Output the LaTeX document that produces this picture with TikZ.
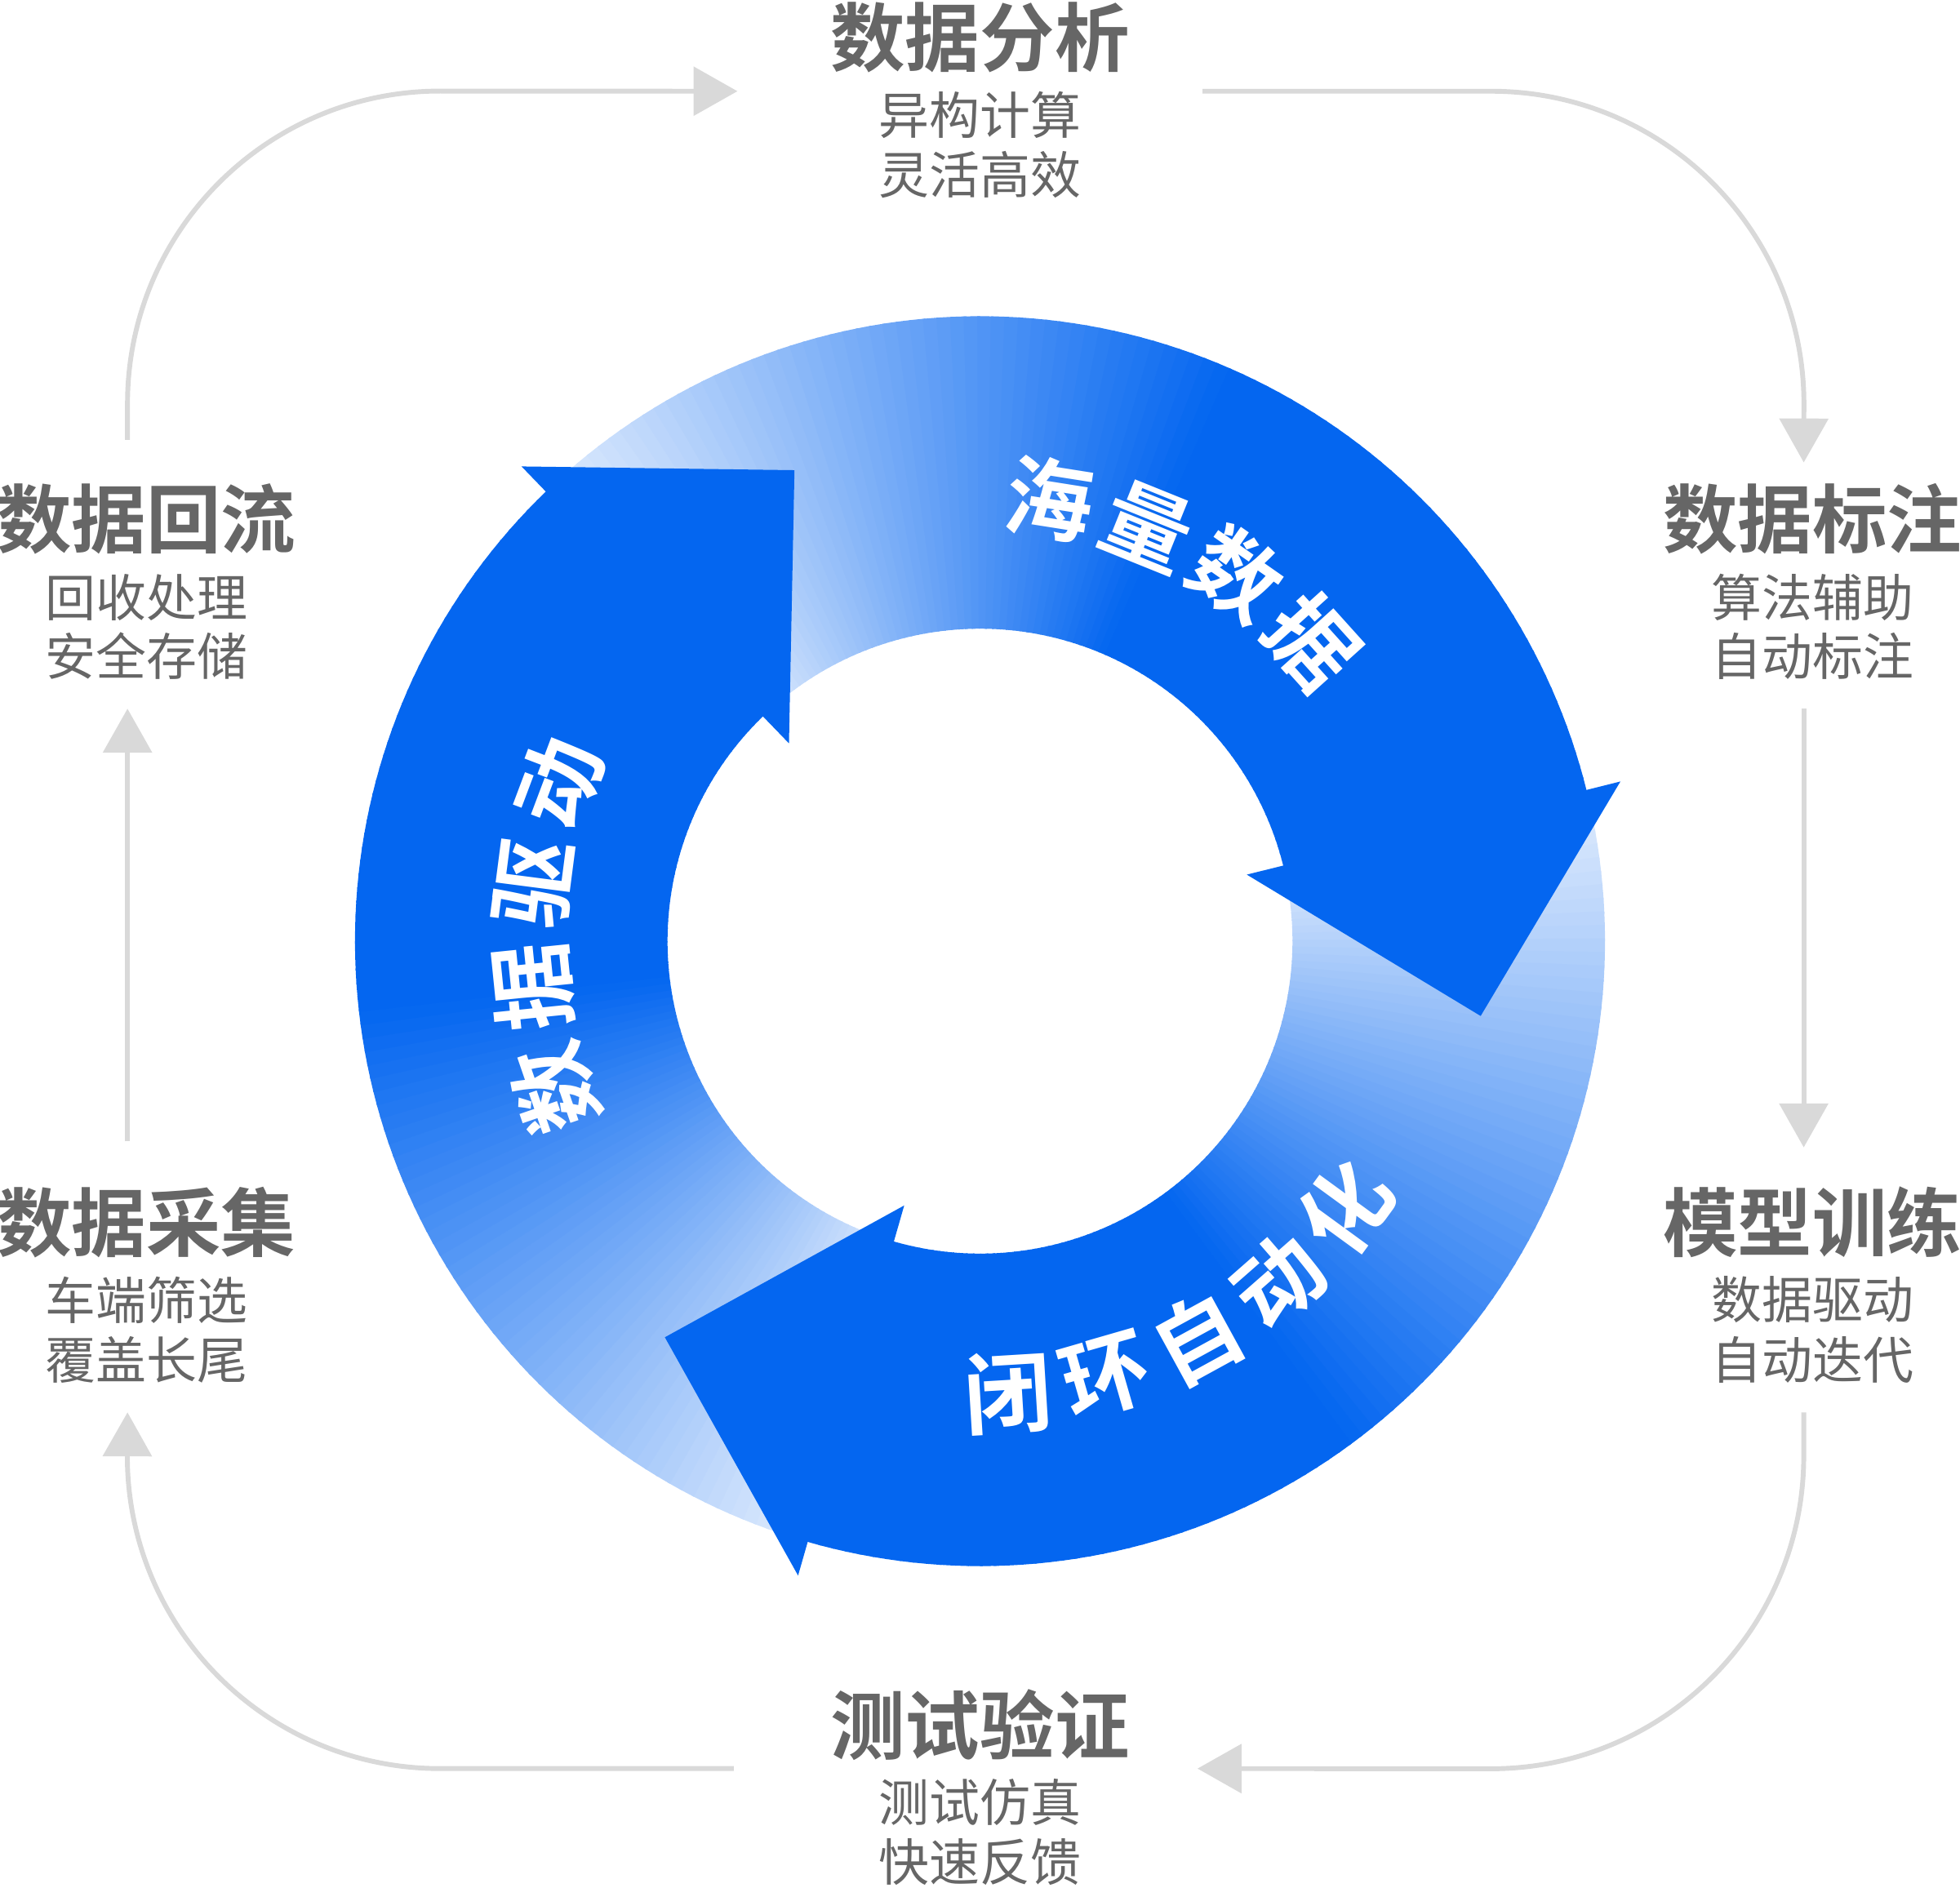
\documentclass[tikz,border=0pt]{standalone}
\usepackage{fontspec}
\newfontfamily\cjk{Noto Sans CJK SC}
\newfontfamily\cjkb{Noto Sans CJK SC Bold}
\usetikzlibrary{arrows.meta}
\definecolor{mainblue}{RGB}{4,102,240}
\definecolor{lgrey}{RGB}{217,217,217}
\definecolor{tgrey}{RGB}{102,102,102}
\tikzset{
  loopline/.style={draw=lgrey,line width=1.1pt},
  looparrow/.style={loopline,-{Triangle[width=11pt,length=10pt]}},
  ttl/.style={text=tgrey,font=\cjkb\fontsize{17}{20}\selectfont,inner sep=0pt},
  sub/.style={text=tgrey,font=\cjk\fontsize{11.5}{14}\selectfont,inner sep=0pt},
  ringtxt/.style={text=white,font=\cjkb\fontsize{20}{22}\selectfont,inner sep=0pt}
}
\begin{document}
\begin{tikzpicture}[x=0.01cm,y=0.01cm]
\useasboundingbox (0,0) rectangle (1568,-1510);
\def\cx{784}\def\cy{-753}
% bodies (tails drawn first so that dark ends lie on top)
\foreach \i in {0,...,99}{
  \foreach \tb in {14,134,254}{
    \pgfmathsetmacro\aa{\tb+125-1.25*\i}
    \pgfmathsetmacro\ab{\aa-1.5}
    \pgfmathsetmacro\p{min(100,6+94*(1.25*\i)/72)}
    \fill[mainblue!\p!white]
      ({\cx+500*cos(\aa)},{\cy+500*sin(\aa)}) arc[start angle=\aa,end angle=\ab,radius=5cm]
      -- ({\cx+250*cos(\ab)},{\cy+250*sin(\ab)}) arc[start angle=\ab,end angle=\aa,radius=2.5cm] -- cycle;
  }
}
% heads
\foreach \tb in {14,134,254}{
  \fill[mainblue] ({\cx+528*cos(\tb)},{\cy+528*sin(\tb)})
    -- ({\cx+405*cos(\tb-22.5)},{\cy+405*sin(\tb-22.5)})
    -- ({\cx+220*cos(\tb)},{\cy+220*sin(\tb)}) -- cycle;
}
% ring texts
\foreach \ch [count=\i from 0] in {海,量,数,据}{
  \pgfmathsetmacro\a{81-13*\i}
  \node[ringtxt,rotate=\a-90] (h\i) at ({\cx+358*cos(\a)},{\cy+358*sin(\a)}) {\ch};
}
\foreach \ch [count=\i from 0] in {数,据,驱,动}{
  \pgfmathsetmacro\a{199-13.2*\i}
  \node[ringtxt,rotate=\a-90] (q\i) at ({\cx+360*cos(\a)},{\cy+360*sin(\a)}) {\ch};
}
\foreach \ch [count=\i from 0] in {闭,环,自,动,化}{
  \pgfmathsetmacro\a{-86.5+12.6*\i}
  \node[ringtxt,rotate=\a+90] (b\i) at ({\cx+362*cos(\a)},{\cy+362*sin(\a)}) {\ch};
}
% labels
\node[ttl] (t1) at (784,-30) {数据分析};
\node[sub] (s1a) at (784,-92) {异构计算};
\node[sub] (s1b) at (784,-140) {灵活高效};
\node[ttl] (t2) at (1450,-415) {数据标注};
\node[sub] (s2a) at (1450,-478) {算法辅助};
\node[sub] (s2b) at (1450,-525) {自动标注};
\node[ttl] (t3) at (1450,-978) {模型训练};
\node[sub] (s3a) at (1450,-1040) {数据驱动};
\node[sub] (s3b) at (1450,-1088) {自动迭代};
\node[ttl] (t4) at (784,-1380) {测试验证};
\node[sub] (s4a) at (784,-1442) {测试仿真};
\node[sub] (s4b) at (784,-1490) {快速反馈};
\node[ttl] (t5) at (117,-978) {数据采集};
\node[sub] (s5a) at (117,-1040) {车端筛选};
\node[sub] (s5b) at (117,-1088) {覆盖长尾};
\node[ttl] (t6) at (117,-415) {数据回流};
\node[sub] (s6a) at (117,-478) {回收处理};
\node[sub] (s6b) at (117,-525) {安全存储};
% loop connectors
\coordinate (p1) at (102,-352); \coordinate (p2) at (590,-73);
\coordinate (p3) at (962,-73); \coordinate (p4) at (1443,-370);
\coordinate (p5) at (1443,-567); \coordinate (p6) at (1443,-918);
\coordinate (p7) at (1443,-1130); \coordinate (p8) at (958,-1415);
\coordinate (p9) at (587,-1415); \coordinate (p10) at (102,-1130);
\coordinate (p11) at (102,-913); \coordinate (p12) at (102,-567);
\draw[looparrow] (p1) -- (102,-323) arc[start angle=180,end angle=90,radius=2.5cm] -- (p2);
\draw[looparrow] (p3) -- (1193,-73) arc[start angle=90,end angle=0,radius=2.5cm] -- (p4);
\draw[looparrow] (p5) -- (p6);
\draw[looparrow] (p7) -- (1443,-1165) arc[start angle=0,end angle=-90,radius=2.5cm] -- (p8);
\draw[looparrow] (p9) -- (352,-1415) arc[start angle=270,end angle=180,radius=2.5cm] -- (p10);
\draw[looparrow] (p11) -- (p12);
\end{tikzpicture}
\end{document}
